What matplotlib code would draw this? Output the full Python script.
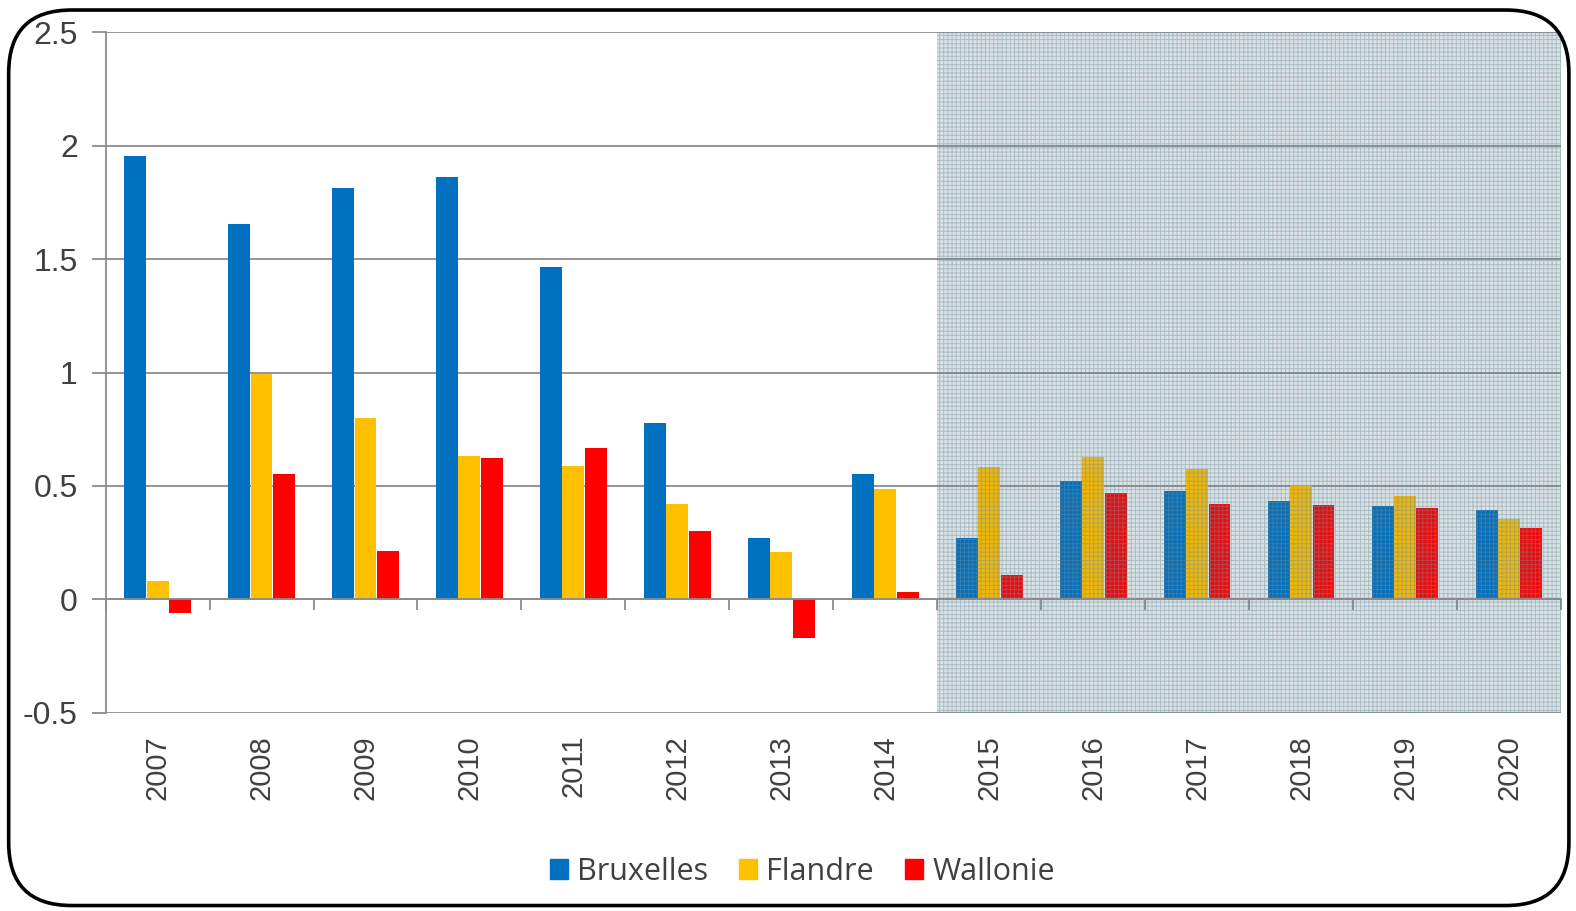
import numpy as np
import matplotlib.pyplot as plt
from matplotlib.patches import FancyBboxPatch

years = ['2007', '2008', '2009', '2010', '2011', '2012', '2013',
         '2014', '2015', '2016', '2017', '2018', '2019', '2020']
bruxelles = [1.956, 1.655, 1.815, 1.86, 1.464, 0.778, 0.272,
             0.553, 0.272, 0.521, 0.476, 0.432, 0.413, 0.392]
flandre = [0.082, 0.995, 0.80, 0.631, 0.587, 0.419, 0.21,
           0.485, 0.583, 0.627, 0.574, 0.503, 0.455, 0.352]
wallonie = [-0.06, 0.552, 0.215, 0.623, 0.667, 0.303, -0.17,
            0.033, 0.109, 0.467, 0.419, 0.414, 0.401, 0.315]
forecast_start = 8  # 2015 onwards shaded

plt.rcParams['font.family'] = ['Liberation Sans', 'DejaVu Sans']
plt.rcParams['hatch.linewidth'] = 0.7
txt = '#404040'
grid_c = '#8c8c8c'

fig = plt.figure(figsize=(15.76, 9.11), dpi=100)
fig.patches.append(FancyBboxPatch((0.0055, 0.006), 0.99, 0.983, boxstyle='round,pad=0,rounding_size=0.04',
                                  transform=fig.transFigure, fill=False, ec='black', lw=2.6,
                                  mutation_aspect=1576 / 911))
ax = fig.add_axes([0.067, 0.2176, 0.9235, 0.747])

x = np.arange(len(years))
w = 0.215
ax.bar(x - w, bruxelles, w * 0.98, color='#0070C0', zorder=2)
ax.bar(x, flandre, w * 0.98, color='#FFC000', zorder=2)
ax.bar(x + w, wallonie, w * 0.98, color='#FF0000', zorder=2)

ax.set_xlim(-0.5, len(years) - 0.5)
ax.set_ylim(-0.5, 2.5)
ax.set_yticks([-0.5, 0, 0.5, 1, 1.5, 2, 2.5])
ax.set_yticklabels(['-0.5', '0', '0.5', '1', '1.5', '2', '2.5'])
ax.yaxis.grid(True, color=grid_c, lw=1.3, zorder=0)
ax.set_axisbelow(True)

# shaded forecast zone: light fill behind bars, tint + fine grid pattern on top
ax.axvspan(forecast_start - 0.5, len(years) - 0.5, facecolor='#eaf0f2', lw=0, zorder=0.5)
ax.axvspan(forecast_start - 0.5, len(years) - 0.5, facecolor='#4f6f7e', alpha=0.1, lw=0, zorder=3)
ax.axvspan(forecast_start - 0.5, len(years) - 0.5, facecolor='none', hatch='++++',
           edgecolor='#6f8e9c', alpha=0.45, lw=0, zorder=3)

for s in ['top', 'right']:
    ax.spines[s].set_visible(False)
ax.spines['left'].set_color(grid_c)
ax.spines['left'].set_linewidth(1.3)
ax.spines['bottom'].set_position(('data', 0))
ax.spines['bottom'].set_color(grid_c)
ax.spines['bottom'].set_linewidth(1.3)
ax.spines['bottom'].set_zorder(4)

ax.set_xticks(x)
ax.set_xticks(np.arange(len(years) + 1) - 0.5, minor=True)
ax.tick_params(axis='x', which='major', length=0, labelbottom=False)
ax.tick_params(axis='x', which='minor', length=8, width=1.3, color=grid_c, direction='out')
ax.tick_params(axis='y', length=10, width=1.3, color=grid_c, labelsize=23, labelcolor=txt, pad=10)

sec = ax.secondary_xaxis('bottom')
sec.set_xticks(x)
sec.set_xticklabels(years, rotation=90, fontsize=21, color=txt)
sec.tick_params(length=0, pad=16)
sec.spines['bottom'].set_visible(False)

h = [plt.Rectangle((0, 0), 1, 1, color=c) for c in ['#0070C0', '#FFC000', '#FF0000']]
fig.legend(h, ['Bruxelles', 'Flandre', 'Wallonie'], loc='center', bbox_to_anchor=(0.509, 0.043),
           ncol=3, frameon=False, handlelength=0.6, handleheight=0.6,
           handletextpad=0.3, columnspacing=1.0, labelcolor=txt,
           prop={'family': ['Open Sans', 'DejaVu Sans'], 'size': 22})

fig.savefig('out.png', dpi=100)
